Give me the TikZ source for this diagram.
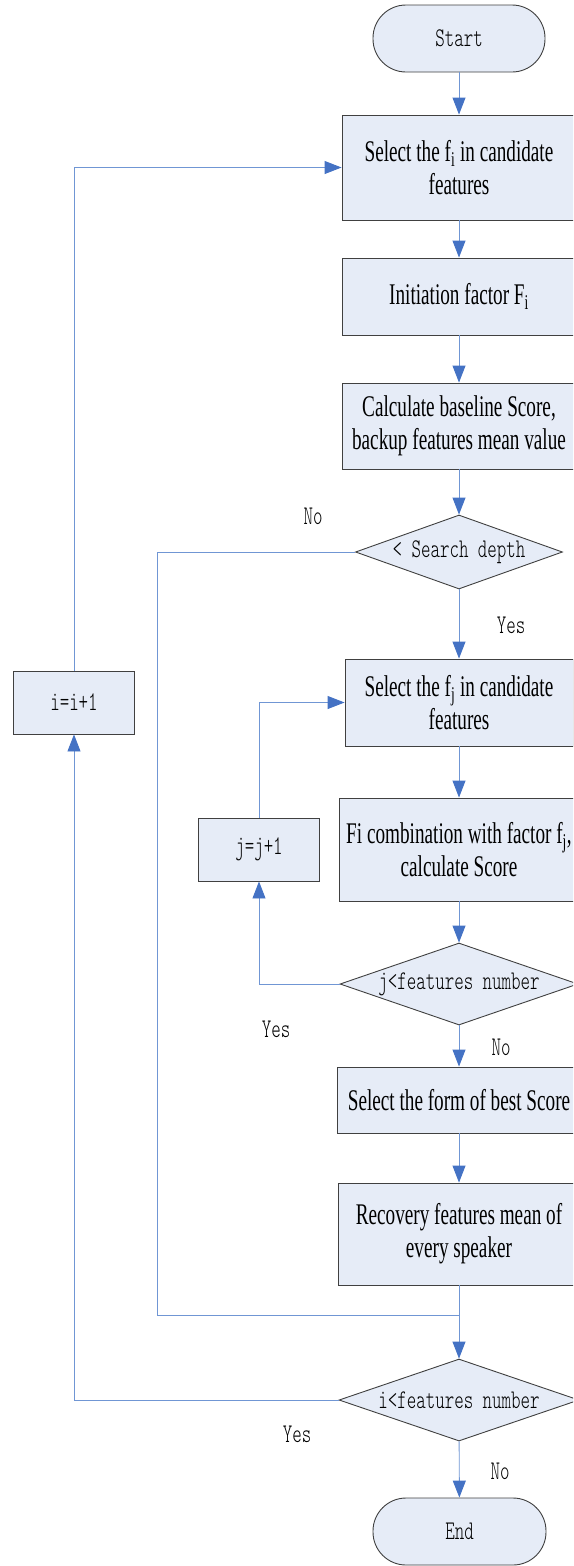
\documentclass[tikz,border=0pt]{standalone}
\usepackage{fontspec}
\setmainfont{Liberation Serif}
\newfontfamily\boxfont[FakeStretch=0.64]{Liberation Serif}
\newfontfamily\keyfont[FakeStretch=0.67]{lmmonolt10-regular.otf}
\usepackage{tikz}
\usetikzlibrary{shapes.geometric,arrows.meta}
\definecolor{boxfill}{HTML}{E6ECF7}
\definecolor{boxline}{HTML}{404040}
\definecolor{flowline}{HTML}{7096D4}
\definecolor{tipblue}{HTML}{4472C4}
\tikzset{
  proc/.style={draw=boxline,fill=boxfill,line width=0.9pt,inner sep=0pt,align=center,
    font={\boxfont\fontsize{30}{33}\selectfont}},
  term/.style={proc,rounded corners=33pt,font={\keyfont\fontsize{27}{30}\selectfont}},
  counter/.style={proc,font={\keyfont\fontsize{27}{30}\selectfont}},
  decide/.style={draw=boxline,fill=boxfill,line width=0.9pt,diamond,aspect=2.9,inner sep=0pt,
    font={\keyfont\fontsize{27}{30}\selectfont}},
  tag/.style={font={\keyfont\fontsize{27}{30}\selectfont}},
  flow/.style={draw=flowline,line width=0.9pt,-{Triangle[width=13pt,length=17pt,color=tipblue,fill=tipblue]}},
  link/.style={draw=flowline,line width=0.9pt}
}
\begin{document}
\begin{tikzpicture}[x=1pt,y=-1pt]
\clip (0,0) rectangle (573,1566);
% main column
\node[term,minimum width=172pt,minimum height=67pt] (start) at (459,38.5) {Start};
\node[proc,minimum width=234pt,minimum height=105pt] (seli) at (459,167.5) {Select the f\textsubscript{i} in candidate\\features};
\node[proc,minimum width=234pt,minimum height=77pt] (init) at (459,296.5) {Initiation factor F\textsubscript{i}};
\node[proc,minimum width=234pt,minimum height=86pt] (base) at (459,426) {Calculate baseline Score,\\backup features mean value};
\node[decide,minimum width=207pt,minimum height=74pt] (depth) at (459,552) {< Search depth};
\node[proc,minimum width=228pt,minimum height=87pt] (selj) at (459,702.5) {Select the f\textsubscript{j} in candidate\\features};
\node[proc,minimum width=240pt,minimum height=103pt] (comb) at (459,849.5) {Fi combination with factor f\textsubscript{j},\\calculate Score};
\node[decide,minimum width=238pt,minimum height=82pt] (jless) at (459,984) {j<features number};
\node[proc,minimum width=244pt,minimum height=66pt] (best) at (459,1100) {Select the form of best Score};
\node[proc,minimum width=242pt,minimum height=102pt] (recov) at (459,1234) {Recovery features mean of\\every speaker};
\node[decide,minimum width=240pt,minimum height=82pt] (iless) at (459,1400) {i<features number};
\node[term,minimum width=173pt,minimum height=67pt] (end) at (459.5,1531.5) {End};
% loop counters
\node[counter,minimum width=121pt,minimum height=63pt] (iinc) at (74,702.5) {i=i+1};
\node[counter,minimum width=121pt,minimum height=63pt] (jinc) at (259,849.5) {j=j+1};
\coordinate (join) at (459,1315);
\coordinate (skip) at (157,1315);
% connectors
\draw[flow] (start) -- (seli);
\draw[flow] (seli) -- (init);
\draw[flow] (init) -- (base);
\draw[flow] (base) -- (depth);
\draw[flow] (depth) -- (selj);
\draw[flow] (selj) -- (comb);
\draw[flow] (comb) -- (jless);
\draw[flow] (jless.west) -| (jinc.south);
\draw[flow] (jinc.north) |- (selj.west);
\draw[flow] (jless) -- (best);
\draw[flow] (best) -- (recov);
\draw[flow] (recov) -- (iless);
\draw[link] (depth.west) -| (skip) -- (join);
\draw[flow] (iless.west) -| (iinc.south);
\draw[flow] (iinc.north) |- (seli.west);
\draw[flow] (iless) -- (end);
% branch labels
\node[tag] (nodepth) at (313,516) {No};
\node[tag] (yesdepth) at (511,625) {Yes};
\node[tag] (yesj) at (276,1029) {Yes};
\node[tag] (noj) at (501,1047) {No};
\node[tag] (yesi) at (297,1434) {Yes};
\node[tag] (noi) at (500,1471) {No};
\end{tikzpicture}
\end{document}
